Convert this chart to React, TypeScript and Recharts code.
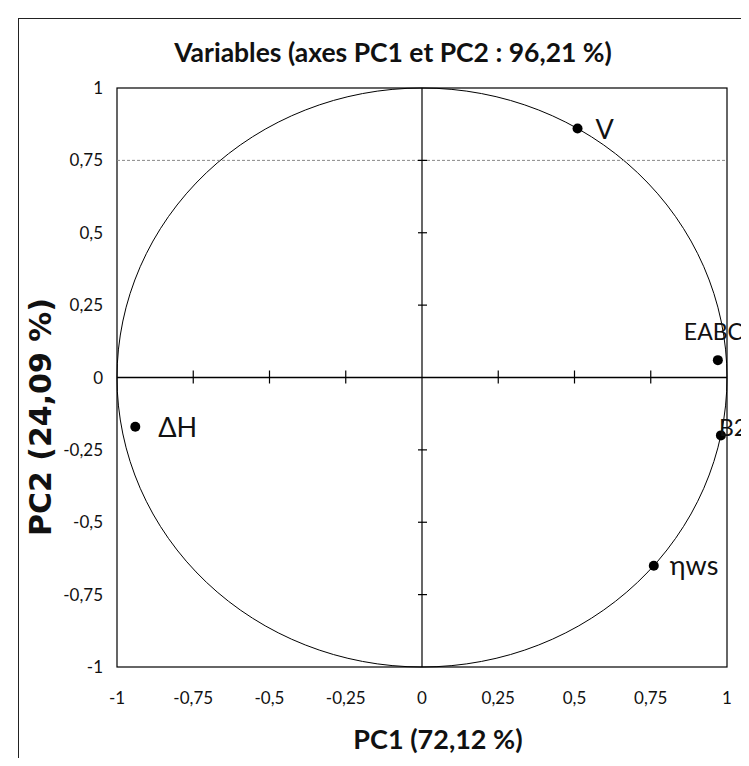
import {
  ReferenceLine,
  Scatter,
  ScatterChart,
  XAxis,
  YAxis,
  LabelList,
  usePlotArea,
} from "recharts";

const tickValues = [-1, -0.75, -0.5, -0.25, 0, 0.25, 0.5, 0.75, 1];
const crossTicks = [-0.75, -0.5, -0.25, 0.25, 0.5, 0.75];

const variableNames = ["V", "EABC", "B2", "ηws", "ΔH"];
const pc1Values = [0.51, 0.97, 0.98, 0.76, -0.94];
const pc2Values = [0.86, 0.06, -0.2, -0.65, -0.17];

const variables = variableNames.map((name, i) => ({
  name,
  x: pc1Values[i],
  y: pc2Values[i],
}));

const xTickMarks = crossTicks.map((t) => ({ x: t, y: 0 }));
const yTickMarks = crossTicks.map((t) => ({ x: 0, y: t }));

const calibriLike = "Lato, 'Open Sans', sans-serif";

// where each variable's name sits relative to its dot
const labelOffsets: Record<string, { dx: number; dy: number; size: number }> = {
  V: { dx: 18, dy: 10, size: 27 },
  EABC: { dx: -34, dy: -20, size: 23 },
  B2: { dx: -2, dy: 1, size: 23 },
  "ηws": { dx: 16, dy: 9, size: 27 },
  "ΔH": { dx: 23, dy: 10, size: 27 },
};

function formatTick(value: number) {
  return String(value).replace(".", ",");
}

function PlotFrame() {
  const area = usePlotArea();
  if (!area) return null;
  return (
    <g>
      <rect
        x={area.x}
        y={area.y}
        width={area.width}
        height={area.height}
        fill="none"
        stroke="#000"
        strokeWidth={1.2}
      />
      <ellipse
        cx={area.x + area.width / 2}
        cy={area.y + area.height / 2}
        rx={area.width / 2}
        ry={area.height / 2}
        fill="none"
        stroke="#000"
        strokeWidth={1}
      />
    </g>
  );
}

function VariableLabel(props: any) {
  const { x, y, width, height, value } = props;
  const o = labelOffsets[value] ?? { dx: 10, dy: 6, size: 25 };
  return (
    <text
      x={x + width / 2 + o.dx}
      y={y + height / 2 + o.dy}
      textAnchor="start"
      fontSize={o.size}
      fontFamily={calibriLike}
      fill="#111"
    >
      {value}
    </text>
  );
}

export default function App() {
  return (
    <div
      style={{
        position: "relative",
        width: 749,
        height: 766,
        margin: -8,
        overflow: "hidden",
        background: "#fff",
      }}
    >
      <div
        style={{
          position: "absolute",
          left: 18,
          top: 18,
          width: 760,
          height: 780,
          border: "1.5px solid #222",
        }}
      />
      <div
        style={{
          position: "absolute",
          left: 0,
          width: 786,
          top: 36,
          textAlign: "center",
          fontFamily: calibriLike,
          fontWeight: 700,
          fontSize: 26.5,
          color: "#111",
        }}
      >
        Variables (axes PC1 et PC2 : 96,21 %)
      </div>
      <div
        style={{
          position: "absolute",
          left: 0,
          width: 876,
          top: 722,
          textAlign: "center",
          fontFamily: calibriLike,
          fontWeight: 700,
          fontSize: 27,
          color: "#111",
        }}
      >
        PC1 (72,12 %)
      </div>
      <div
        style={{
          position: "absolute",
          left: 40,
          top: 417,
          transform: "translate(-50%, -50%) rotate(-90deg)",
          whiteSpace: "nowrap",
          fontFamily: "'DejaVu Sans', Verdana, sans-serif",
          fontWeight: 700,
          fontSize: 30,
          color: "#111",
          zIndex: 2,
        }}
      >
        PC2 (24,09 %)
      </div>
      <div style={{ position: "absolute", left: 0, top: 0 }}>
        <ScatterChart
          width={749}
          height={766}
          margin={{ top: 88, right: 22, bottom: 0, left: 57 }}
        >
          <XAxis
            type="number"
            dataKey="x"
            domain={[-1, 1]}
            ticks={tickValues}
            tickFormatter={formatTick}
            axisLine={false}
            tickLine={false}
            tickMargin={19}
            height={99}
            tick={{ fill: "#111", fontSize: 17, fontFamily: calibriLike }}
          />
          <YAxis
            type="number"
            dataKey="y"
            domain={[-1, 1]}
            ticks={tickValues}
            tickFormatter={formatTick}
            axisLine={false}
            tickLine={false}
            tickMargin={8}
            width={60}
            tick={{ fill: "#111", fontSize: 17, fontFamily: calibriLike }}
          />
          <PlotFrame />
          <ReferenceLine y={0.75} stroke="#888" strokeDasharray="3 2" strokeWidth={1} />
          <ReferenceLine x={0} stroke="#000" strokeWidth={1.2} />
          <ReferenceLine y={0} stroke="#000" strokeWidth={1.6} />
          <Scatter
            data={xTickMarks}
            isAnimationActive={false}
            shape={(p: any) => (
              <line x1={p.cx} x2={p.cx} y1={p.cy - 7} y2={p.cy + 6} stroke="#000" strokeWidth={1.2} />
            )}
          />
          <Scatter
            data={yTickMarks}
            isAnimationActive={false}
            shape={(p: any) => (
              <line x1={p.cx - 4} x2={p.cx + 5} y1={p.cy} y2={p.cy} stroke="#000" strokeWidth={1.2} />
            )}
          />
          <Scatter
            data={variables}
            isAnimationActive={false}
            fill="#000"
            shape={(p: any) => <circle cx={p.cx} cy={p.cy} r={5} fill="#000" />}
          >
            <LabelList dataKey="name" content={VariableLabel} />
          </Scatter>
        </ScatterChart>
      </div>
    </div>
  );
}
